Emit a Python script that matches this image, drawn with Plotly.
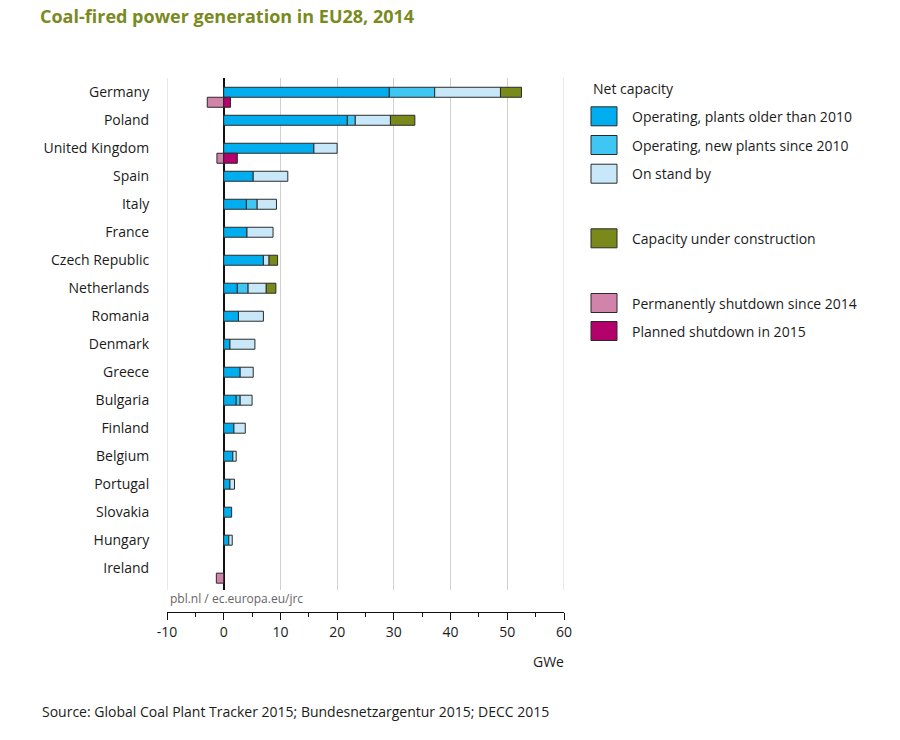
import plotly.graph_objects as go

countries = ["Germany", "Poland", "United Kingdom", "Spain", "Italy", "France",
             "Czech Republic", "Netherlands", "Romania", "Denmark", "Greece",
             "Bulgaria", "Finland", "Belgium", "Portugal", "Slovakia", "Hungary", "Ireland"]
operating_old = [29.2, 21.8, 15.9, 5.2, 4.0, 4.1, 7.0, 2.4, 2.6, 1.1, 2.9, 2.2, 1.8, 1.6, 1.1, 1.4, 0.9, None]
operating_new = [8.0, 1.4, None, None, 1.9, None, None, 1.9, None, None, None, 0.7, None, None, None, None, None, None]
stand_by = [11.6, 6.2, 4.1, 6.1, 3.4, 4.6, 1.0, 3.2, 4.4, 4.4, 2.3, 2.1, 2.0, 0.6, 0.8, None, 0.6, None]
under_construction = [3.7, 4.3, None, None, None, None, 1.5, 1.7, None, None, None, None, None, None, None, None, None, None]
shutdown_2014 = [-2.9, None, -1.2, None, None, None, None, None, None, None, None, None, None, None, None, None, None, -1.3]
planned_shutdown_2015 = [1.2, None, 2.4, None, None, None, None, None, None, None, None, None, None, None, None, None, None, None]

x_ticks = [-10, 0, 10, 20, 30, 40, 50, 60]

C_OLD = "#00AEEF"
C_NEW = "#40C6F2"
C_STANDBY = "#C8E8F9"
C_CONSTR = "#7A8A1A"
C_SHUT = "#D283A9"
C_PLAN = "#B3006A"
TEXT = "#1b1b1b"
FONT = "Open Sans"

W, H = 900, 740
# target page pixel positions of the plot frame
L, R, T, B = 167, 564, 78, 612
PLOT_BOTTOM = 590

def px_x(p):
    return (p - L) / (R - L)

def px_y(p):
    return (B - p) / (B - T)

bw = 10 / 28
main_y = list(range(len(countries)))
shut_y = [i + bw for i in main_y]

fig = go.Figure()
line = dict(color="#2a2a2a", width=1)
for name, vals, col, ys in [
    ("Operating, plants older than 2010", operating_old, C_OLD, main_y),
    ("Operating, new plants since 2010", operating_new, C_NEW, main_y),
    ("On stand by", stand_by, C_STANDBY, main_y),
    ("Capacity under construction", under_construction, C_CONSTR, main_y),
    ("Permanently shutdown since 2014", shutdown_2014, C_SHUT, shut_y),
    ("Planned shutdown in 2015", planned_shutdown_2015, C_PLAN, shut_y),
]:
    fig.add_trace(go.Bar(x=vals, y=ys, orientation="h", name=name, width=bw,
                         marker=dict(color=col, line=line), showlegend=False))

fig.update_layout(
    width=W, height=H,
    margin=dict(l=L, r=W - R, t=T, b=H - B),
    barmode="relative",
    plot_bgcolor="white", paper_bgcolor="white",
    font=dict(family=FONT, size=14, color=TEXT),
    title=dict(text="<b>Coal-fired power generation in EU28, 2014</b>",
               font=dict(family=FONT, size=18, color="#7A8A1E"),
               xref="container", yref="container", x=40 / W, y=1 - 17 / H,
               xanchor="left", yanchor="middle"),
    xaxis=dict(range=[-10, 60], tickvals=x_ticks, ticktext=[str(v) for v in x_ticks],
               showgrid=True, gridcolor="#d0d0d0", gridwidth=1,
               zeroline=True, zerolinecolor="#111111", zerolinewidth=1.5,
               anchor="free", position=0,
               showline=True, linecolor="#111111", linewidth=1,
               ticks="outside", ticklen=7, tickcolor="#111111",
               minor=dict(ticks="outside", dtick=5, ticklen=4, tickcolor="#111111", showgrid=False),
               tickfont=dict(size=14, color=TEXT)),
    yaxis=dict(domain=[(B - PLOT_BOTTOM) / (B - T), 1],
               range=[17.78, -0.51], tickvals=main_y, ticktext=countries,
               showgrid=False, zeroline=False, showline=False,
               ticks="outside", ticklen=14, tickcolor="rgba(0,0,0,0)",
               tickfont=dict(size=14, color=TEXT)),
)

annotations = [
    dict(text="pbl.nl / ec.europa.eu/jrc", x=px_x(168), y=px_y(598), xanchor="left", yanchor="middle",
         font=dict(size=12, color="#666666")),
    dict(text="GWe", x=px_x(548), y=px_y(661), xanchor="center", yanchor="middle",
         font=dict(size=14, color=TEXT)),
    dict(text="Source: Global Coal Plant Tracker 2015; Bundesnetzargentur 2015; DECC 2015",
         x=px_x(40), y=px_y(711), xanchor="left", yanchor="middle", font=dict(size=14, color=TEXT)),
    dict(text="Net capacity", x=px_x(591), y=px_y(88), xanchor="left", yanchor="middle",
         font=dict(size=14, color=TEXT)),
]

legend_items = [
    ("Operating, plants older than 2010", C_OLD, 116.3),
    ("Operating, new plants since 2010", C_NEW, 145),
    ("On stand by", C_STANDBY, 173.7),
    ("Capacity under construction", C_CONSTR, 238.3),
    ("Permanently shutdown since 2014", C_SHUT, 303),
    ("Planned shutdown in 2015", C_PLAN, 331),
]
shapes = []
# grid lines at the two ends of the value range
for xv in (x_ticks[0], x_ticks[-1]):
    shapes.append(dict(type="line", xref="x", yref="paper", x0=xv, x1=xv,
                       y0=(B - PLOT_BOTTOM) / (B - T), y1=1,
                       line=dict(color="#d0d0d0", width=1), layer="below"))
for name, col, yc in legend_items:
    shapes.append(dict(type="rect", xref="paper", yref="paper",
                       x0=px_x(591), x1=px_x(617), y0=px_y(yc - 9.5), y1=px_y(yc + 9.5),
                       fillcolor=col, line=dict(color="#2a2a2a", width=1)))
    annotations.append(dict(text=name, x=px_x(630), y=px_y(yc), xanchor="left", yanchor="middle",
                            font=dict(size=14, color=TEXT)))

for a in annotations:
    a.update(xref="paper", yref="paper", showarrow=False)
fig.update_layout(annotations=annotations, shapes=shapes)

fig.write_html("out.html", config={"displayModeBar": False},
               post_script="document.body.style.margin='0';document.body.style.overflow='hidden';")
